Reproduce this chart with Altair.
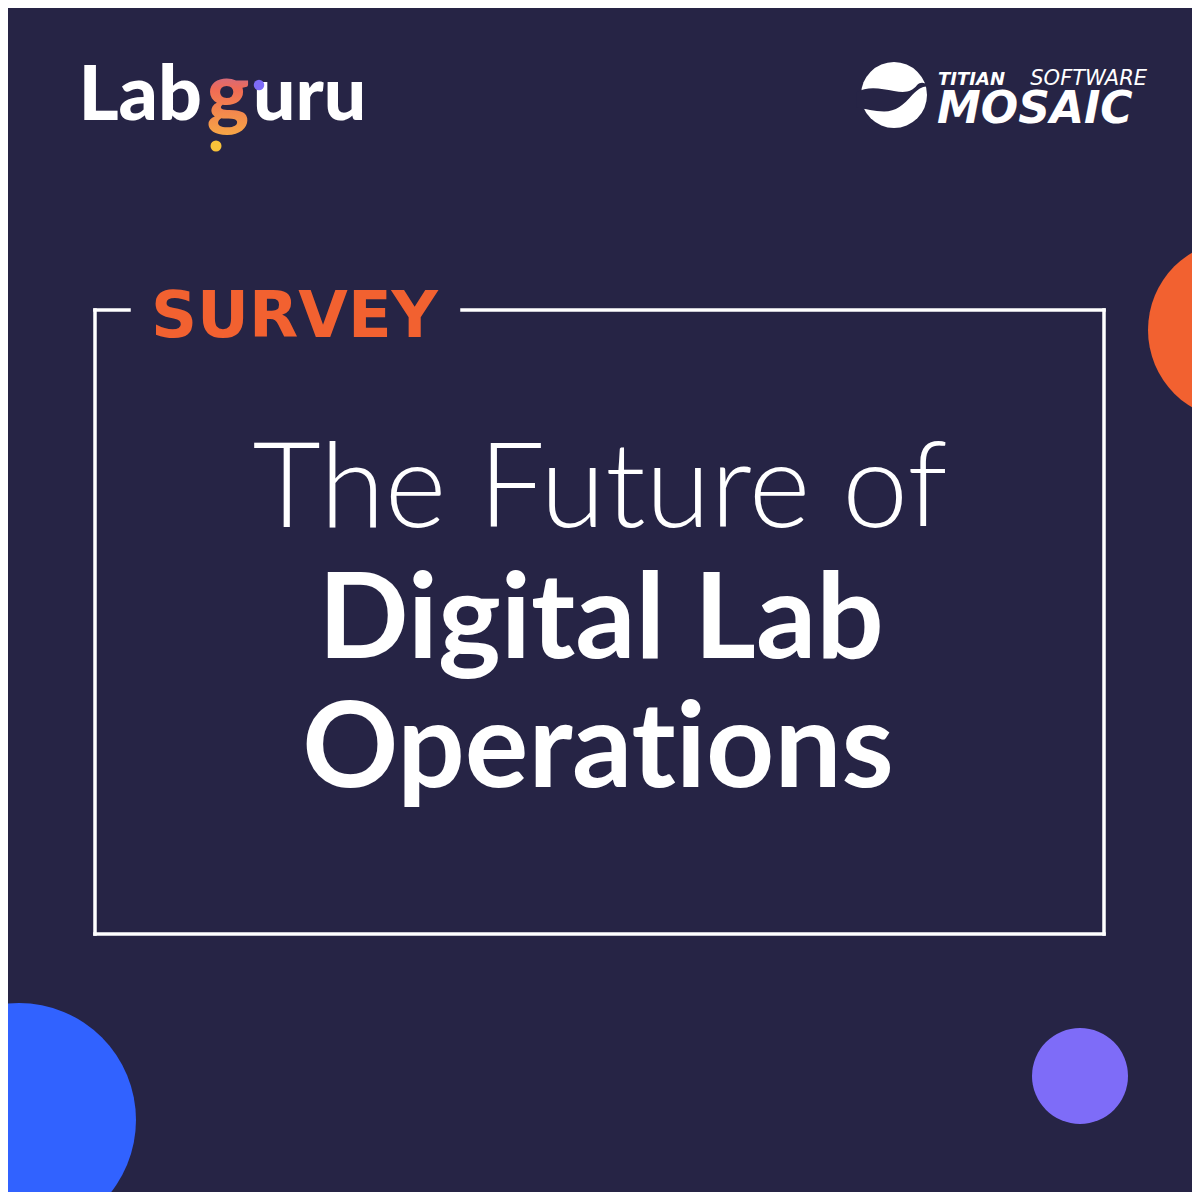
import altair as alt
import pandas as pd

BG = "#262445"
WHITE = "#FFFFFF"
FONT = "Lato"

# ---- text content ----
tag_text = ["SURVEY"]
title_light = ["The Future of"]
# \u200c (zero-width non-joiner) keeps Lato from fusing "ti" into a ligature
title_bold = ["Digital Lab", "Operat\u200cions"]
labguru_parts = ["Lab", "g", "uru"]
titian_small = ["TITIAN", "SOFTWARE"]
mosaic_word = ["MOSAIC"]

# ---- decorative circles ----
circle_cx = [1238, 19, 1080]
circle_cy = [330, 1120, 1076]
circle_r = [90, 117, 48]
circle_colors = ["#F26130", "#3162FF", "#7E6CF8"]

# ---- frame segments ----
seg_x = [95, 1104, 95, 95, 462]
seg_y = [310, 310, 934, 310, 310]
seg_x2 = [95, 1104, 1104, 129, 1104]
seg_y2 = [934, 934, 934, 310, 310]

XS = alt.Scale(domain=[8, 1192], nice=False, zero=False)
YS = alt.Scale(domain=[1192, 8], nice=False, zero=False)


def X(f="x"):
    return alt.X(f"{f}:Q", scale=XS, axis=None)


def Y(f="y"):
    return alt.Y(f"{f}:Q", scale=YS, axis=None)


circles = pd.DataFrame({"x": circle_cx, "y": circle_cy,
                        "s": [4 * r * r for r in circle_r], "c": circle_colors})
circ_layer = alt.Chart(circles).mark_circle(opacity=1).encode(
    x=X(), y=Y(),
    size=alt.Size("s:Q", scale=None, legend=None),
    color=alt.Color("c:N", scale=None, legend=None),
)

segs = pd.DataFrame({"x": seg_x, "y": seg_y, "x2": seg_x2, "y2": seg_y2})
frame = alt.Chart(segs).mark_rule(color=WHITE, strokeWidth=3.5, strokeCap="square").encode(
    x=X(), y=Y(), x2="x2:Q", y2="y2:Q"
)

tag = alt.Chart(pd.DataFrame({"t": tag_text, "x": [151], "y": [337]})).mark_text(
    font="DejaVu Sans", fontSize=64, fontWeight=700, color="#F26130", align="left",
    baseline="alphabetic"
).encode(x=X(), y=Y(), text="t:N")

t1 = alt.Chart(pd.DataFrame({"t": title_light, "x": [600], "y": [527]})).mark_text(
    font=FONT, fontSize=118, fontWeight=300, color=WHITE, align="center", baseline="alphabetic"
).encode(x=X(), y=Y(), text="t:N")

t2 = alt.Chart(pd.DataFrame({"t": title_bold, "x": [601, 598], "y": [658, 787]})).mark_text(
    font=FONT, fontSize=119, fontWeight=700, color=WHITE, align="center", baseline="alphabetic"
).encode(x=X(), y=Y(), text="t:N")

# ---- Labguru logo ----
lab = alt.Chart(pd.DataFrame({"t": [labguru_parts[0]], "x": [202], "y": [120]})).mark_text(
    font=FONT, fontSize=77, fontWeight=900, color=WHITE, align="right", baseline="alphabetic"
).encode(x=X(), y=Y(), text="t:N")
uru = alt.Chart(pd.DataFrame({"t": [labguru_parts[2]], "x": [253], "y": [120]})).mark_text(
    font=FONT, fontSize=75, fontWeight=900, color=WHITE, align="left", baseline="alphabetic"
).encode(x=X(), y=Y(), text="t:N")
grad = alt.Gradient(
    gradient="linear",
    stops=[alt.GradientStop(color="#7B6CF6", offset=0),
           alt.GradientStop(color="#F06A55", offset=0.5),
           alt.GradientStop(color="#F7A845", offset=1)],
    x1=0, x2=0, y1=0, y2=1,
)
gch = alt.Chart(pd.DataFrame({"t": [labguru_parts[1]], "x": [228], "y": [120]})).mark_text(
    font=FONT, fontSize=80, fontWeight=900, fill=grad, align="center", baseline="alphabetic"
).encode(x=X(), y=Y(), text="t:N")
dots = alt.Chart(pd.DataFrame({"x": [259, 216], "y": [85, 146], "s": [110, 121],
                               "c": ["#7E6CF8", "#F8C23A"]})).mark_circle(opacity=1).encode(
    x=X(), y=Y(), size=alt.Size("s:Q", scale=None, legend=None),
    color=alt.Color("c:N", scale=None, legend=None))

# ---- Titian Mosaic logo ----
swoosh_path = ("M -1.15 -0.08 C -0.8 -0.28 -0.4 -0.2 0.0 -0.12 C 0.35 -0.05 0.55 -0.1 0.7 -0.3 "
               "C 0.8 -0.42 0.95 -0.38 1.02 -0.29 L 1.02 -0.25 C 0.9 -0.28 0.75 -0.2 0.55 0.0 "
               "C 0.3 0.3 0.05 0.5 -0.3 0.5 C -0.6 0.5 -0.85 0.42 -1.15 0.38 Z")
logo_circle = alt.Chart(pd.DataFrame({"x": [894], "y": [95]})).mark_point(
    shape="circle", filled=True, fill=WHITE, opacity=1, size=4 * 33 * 33, strokeWidth=0
).encode(x=X(), y=Y())
logo_swoosh = alt.Chart(pd.DataFrame({"x": [894], "y": [95]})).mark_point(
    shape=swoosh_path, filled=True, fill=BG, opacity=1, size=4 * 33 * 33, strokeWidth=0
).encode(x=X(), y=Y())
titian = alt.Chart(pd.DataFrame({"t": [titian_small[0]], "x": [938], "y": [85]})).mark_text(
    font="DejaVu Sans", fontSize=18, fontWeight=700, fontStyle="italic", color=WHITE,
    align="left", baseline="alphabetic").encode(x=X(), y=Y(), text="t:N")
software = alt.Chart(pd.DataFrame({"t": [titian_small[1]], "x": [1147], "y": [85]})).mark_text(
    font="DejaVu Sans", fontSize=21, fontWeight=400, fontStyle="italic", color=WHITE,
    align="right", baseline="alphabetic").encode(x=X(), y=Y(), text="t:N")
mosaic = alt.Chart(pd.DataFrame({"t": mosaic_word, "x": [937], "y": [123]})).mark_text(
    font="DejaVu Sans", fontSize=44, fontWeight=700, fontStyle="italic", color=WHITE,
    align="left", baseline="alphabetic").encode(x=X(), y=Y(), text="t:N")

chart = alt.layer(
    circ_layer, frame, tag, t1, t2, lab, uru, gch, dots,
    logo_circle, logo_swoosh, titian, software, mosaic,
).properties(
    width=1184, height=1184, background=BG, padding=0,
    autosize=alt.AutoSizeParams(type="none"),
).configure_view(stroke=None, fill=BG)

chart.save("out.html", embed_options={"renderer": "svg", "actions": False})
